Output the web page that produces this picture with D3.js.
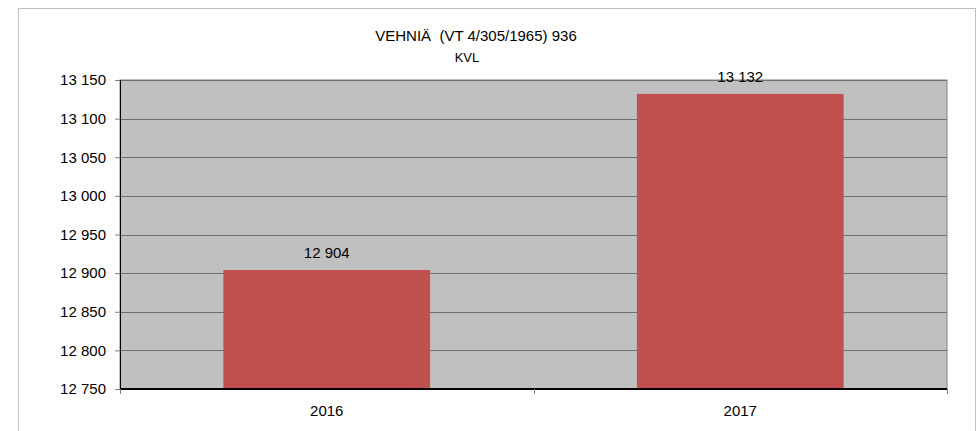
<!DOCTYPE html>
<html>
<head>
<meta charset="utf-8">
<script src="https://cdn.jsdelivr.net/npm/d3@7"></script>
<style>
  body { margin: 0; background: #fff; }
  text { font-family: "Liberation Sans", Arial, sans-serif; }
</style>
</head>
<body>
<div id="chart"></div>
<script>
const years = ['2016', '2017'];
const values = [12904, 13132];
const yTicks = [12750, 12800, 12850, 12900, 12950, 13000, 13050, 13100, 13150];

const margin = { top: 80, left: 120, right: 29, bottom: 42 };
const W = 976, H = 431;
const width = W - margin.left - margin.right;
const height = H - margin.top - margin.bottom;

const fmt = v => d3.format(',')(v).replace(/,/g, ' ');

const svg = d3.select('#chart')
    .append('svg')
    .attr('width', W)
    .attr('height', H);

// outer frame
svg.append('rect')
    .attr('x', 18.5)
    .attr('y', 8.5)
    .attr('width', 957)
    .attr('height', 440)
    .attr('fill', 'none')
    .attr('stroke', '#bfbfbf');

svg.append('text')
    .attr('x', 476)
    .attr('y', 41)
    .attr('text-anchor', 'middle')
    .style('font-size', '15px')
    .style('white-space', 'pre')
    .text('VEHNIÄ  (VT 4/305/1965) 936');

svg.append('text')
    .attr('x', 467)
    .attr('y', 62)
    .attr('text-anchor', 'middle')
    .style('font-size', '13px')
    .text('KVL');

const g = svg.append('g')
    .attr('transform', `translate(${margin.left}, ${margin.top})`);

const x = d3.scaleBand()
    .domain(years)
    .range([0, width])
    .paddingInner(0.5)
    .paddingOuter(0.25);

const xb = d3.scaleBand().domain(years).range([0, width]);

const y = d3.scaleLinear()
    .domain([12750, 13150])
    .range([height, 0]);

g.append('rect')
    .attr('width', width)
    .attr('height', height)
    .attr('fill', '#c0c0c0')
    .attr('stroke', '#808080');

g.selectAll('.grid')
    .data(yTicks)
    .enter()
    .append('line')
    .attr('x1', 0)
    .attr('x2', width)
    .attr('y1', d => Math.round(y(d)) + 0.5)
    .attr('y2', d => Math.round(y(d)) + 0.5)
    .attr('stroke', '#6e6e6e');

g.selectAll('.bar')
    .data(values)
    .enter()
    .append('rect')
    .attr('x', (d, i) => x(years[i]))
    .attr('width', x.bandwidth())
    .attr('y', d => y(d))
    .attr('height', d => height - y(d))
    .attr('fill', '#c0504d');

g.selectAll('.lbl')
    .data(values)
    .enter()
    .append('text')
    .attr('x', (d, i) => x(years[i]) + x.bandwidth() / 2)
    .attr('y', d => y(d) - 12)
    .attr('text-anchor', 'middle')
    .style('font-size', '15px')
    .text(d => fmt(d));

const yAxis = g.append('g')
    .call(d3.axisLeft(y).tickValues(yTicks).tickSize(5).tickPadding(9).tickFormat(fmt));
yAxis.select('.domain').attr('stroke', '#000').attr('d', `M0.5,0V${height}`);
yAxis.selectAll('.tick line').attr('stroke', '#808080');
yAxis.selectAll('text').style('font-size', '15px').attr('fill', '#000');

const xAxis = g.append('g')
    .attr('transform', `translate(0, ${height})`)
    .call(d3.axisBottom(x).tickSize(0).tickPadding(16));
xAxis.select('.domain').attr('stroke', '#000').attr('stroke-width', 2).attr('d', `M0,0H${width}`);
xAxis.selectAll('text').style('font-size', '15px').attr('fill', '#000');

g.selectAll('.xtick')
    .data([0, ...years.map(d => xb(d) + xb.bandwidth())])
    .enter()
    .append('line')
    .attr('x1', d => Math.round(d) + 0.5)
    .attr('x2', d => Math.round(d) + 0.5)
    .attr('y1', height)
    .attr('y2', height + 5)
    .attr('stroke', '#808080');
</script>
</body>
</html>
